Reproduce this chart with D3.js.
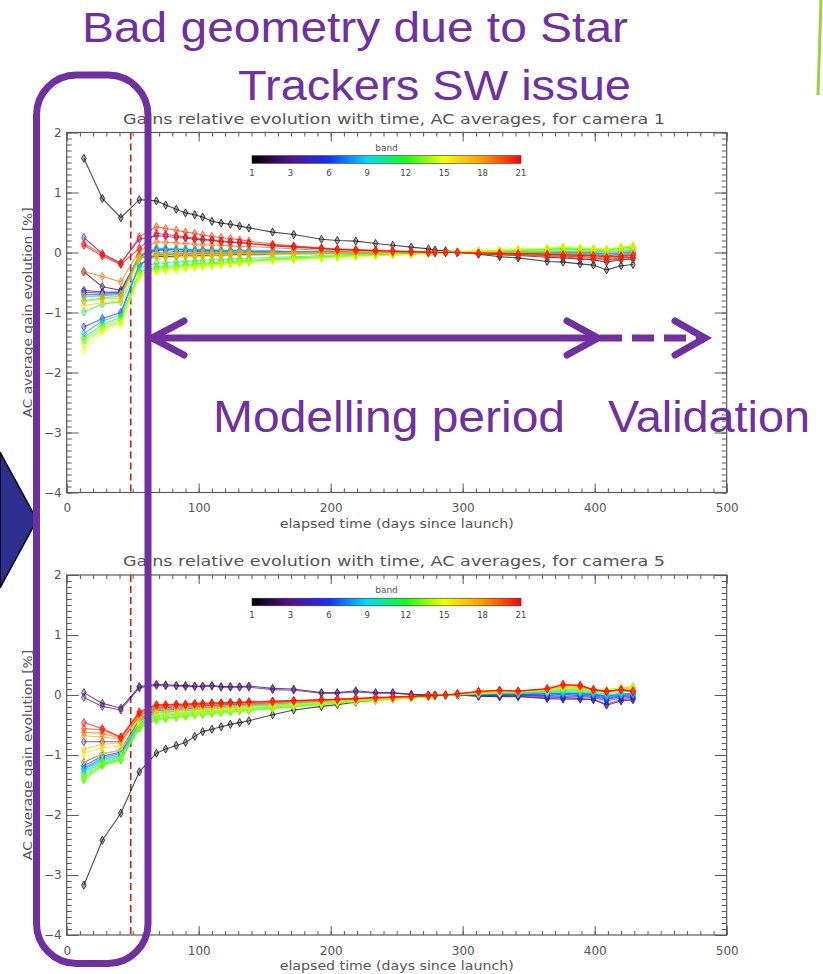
<!DOCTYPE html>
<html>
<head>
<meta charset="utf-8">
<script src="https://cdn.jsdelivr.net/npm/d3@7"></script>
<style>
  html, body { margin: 0; padding: 0; background: #ffffff; }
  svg { display: block; }
</style>
</head>
<body>
<svg id="chart" width="823" height="974"></svg>
<script>
// ---------------------------------------------------------------------------
// Data
// ---------------------------------------------------------------------------

// Acquisition epochs (days since launch)
const days = [13, 27, 41, 55, 68, 75, 83, 90, 97, 103, 110, 117, 124, 131, 138,
  156, 172, 193, 205, 219, 234, 247, 261, 274, 279, 287, 296, 312, 328, 342,
  364, 376, 389, 399, 409, 420, 429];

// Colour bar: labelled bands and their colours
const bandTicks = [1, 3, 6, 9, 12, 15, 18, 21];
const bandColors = ["#000000", "#54138c", "#1530ff", "#00dcf5", "#14ff14", "#f2ff00", "#ff9a00", "#ff0000"];

const xTicks = [0, 100, 200, 300, 400, 500];
const yTicks = [-4, -3, -2, -1, 0, 1, 2];

// Start of the period with correct star-tracker geometry (days since launch)
const anomalyDay = 48.5;

// AC average gain evolution [%], camera 1, bands 1..21
const camera1Gains = [
  [1.57, 0.90, 0.58, 0.88, 0.86, 0.79, 0.72, 0.66, 0.63, 0.59, 0.52, 0.49, 0.47, 0.44, 0.41, 0.34, 0.30, 0.22, 0.20, 0.19, 0.15, 0.12, 0.09, 0.06, 0.04, 0.03, 0.01, -0.03, -0.07, -0.09, -0.15, -0.16, -0.19, -0.21, -0.29, -0.22, -0.20],
  [-0.32, -0.57, -0.63, -0.08, -0.06, -0.07, -0.06, -0.05, -0.06, -0.05, -0.04, -0.05, -0.04, -0.03, -0.04, -0.03, -0.02, -0.02, -0.01, -0.02, -0.01, 0.00, 0.00, 0.00, 0.01, 0.00, 0.00, -0.02, -0.04, -0.05, -0.08, -0.09, -0.11, -0.12, -0.16, -0.12, -0.11],
  [0.25, -0.02, -0.17, 0.22, 0.28, 0.27, 0.25, 0.24, 0.22, 0.21, 0.20, 0.18, 0.17, 0.16, 0.15, 0.11, 0.09, 0.06, 0.05, 0.04, 0.03, 0.02, 0.01, 0.01, 0.00, 0.00, 0.00, -0.01, -0.02, -0.03, -0.05, -0.06, -0.07, -0.08, -0.12, -0.09, -0.08],
  [-0.63, -0.66, -0.66, -0.05, 0.06, 0.06, 0.05, 0.05, 0.04, 0.04, 0.04, 0.03, 0.03, 0.03, 0.02, 0.02, 0.01, 0.01, 0.01, 0.00, 0.00, 0.00, 0.00, 0.00, 0.00, 0.00, 0.00, 0.00, -0.01, -0.02, -0.03, -0.03, -0.04, -0.05, -0.08, -0.05, -0.04],
  [-0.66, -0.68, -0.67, -0.06, 0.03, 0.03, 0.02, 0.02, 0.02, 0.01, 0.01, 0.01, 0.01, 0.00, 0.00, 0.00, 0.00, 0.00, 0.00, 0.00, 0.00, 0.00, 0.00, 0.00, 0.00, 0.00, 0.00, 0.00, -0.01, -0.01, -0.02, -0.02, -0.03, -0.03, -0.06, -0.03, -0.02],
  [-1.24, -1.10, -1.00, -0.20, -0.04, -0.04, -0.03, -0.03, -0.03, -0.02, -0.02, -0.02, -0.02, -0.01, -0.01, -0.01, -0.01, 0.00, 0.00, 0.00, 0.00, 0.00, 0.00, 0.00, 0.00, 0.00, 0.00, 0.00, 0.00, -0.01, -0.01, -0.01, -0.02, -0.02, -0.04, -0.02, -0.01],
  [-0.70, -0.70, -0.68, -0.07, 0.05, 0.05, 0.05, 0.04, 0.04, 0.04, 0.03, 0.03, 0.03, 0.03, 0.02, 0.02, 0.01, 0.01, 0.01, 0.00, 0.00, 0.00, 0.00, 0.00, 0.00, 0.00, 0.00, 0.00, 0.00, 0.00, -0.01, 0.00, -0.01, -0.01, -0.03, -0.01, 0.00],
  [-1.35, -1.14, -1.04, -0.22, -0.02, -0.02, -0.02, -0.01, -0.01, -0.01, -0.01, 0.00, 0.00, 0.00, 0.00, 0.00, 0.00, 0.00, 0.00, 0.00, 0.00, 0.00, 0.00, 0.00, 0.00, 0.00, 0.00, 0.00, 0.00, 0.00, 0.00, 0.01, 0.00, 0.00, -0.02, 0.00, 0.01],
  [-0.74, -0.72, -0.70, -0.04, 0.07, 0.07, 0.06, 0.06, 0.05, 0.05, 0.05, 0.04, 0.04, 0.04, 0.04, 0.03, 0.02, 0.02, 0.01, 0.01, 0.01, 0.00, 0.00, 0.00, 0.00, 0.00, 0.00, 0.00, 0.01, 0.01, 0.01, 0.02, 0.01, 0.01, 0.00, 0.01, 0.02],
  [-0.80, -0.76, -0.72, -0.10, -0.03, -0.03, -0.03, -0.02, -0.02, -0.02, -0.02, -0.01, -0.01, -0.01, -0.01, -0.01, 0.00, 0.00, 0.00, 0.00, 0.00, 0.00, 0.00, 0.00, 0.00, 0.00, 0.00, 0.01, 0.01, 0.02, 0.02, 0.03, 0.02, 0.02, 0.01, 0.03, 0.04],
  [-0.99, -0.86, -0.82, -0.25, -0.18, -0.17, -0.16, -0.15, -0.14, -0.13, -0.12, -0.12, -0.11, -0.10, -0.10, -0.08, -0.07, -0.05, -0.04, -0.03, -0.03, -0.02, -0.01, -0.01, 0.00, 0.00, 0.00, 0.01, 0.02, 0.03, 0.04, 0.05, 0.04, 0.04, 0.03, 0.05, 0.07],
  [-1.42, -1.20, -1.08, -0.33, -0.24, -0.23, -0.22, -0.20, -0.19, -0.18, -0.17, -0.16, -0.15, -0.14, -0.13, -0.11, -0.09, -0.07, -0.06, -0.05, -0.04, -0.03, -0.02, -0.01, -0.01, 0.00, 0.00, 0.02, 0.03, 0.04, 0.05, 0.07, 0.05, 0.05, 0.04, 0.07, 0.09],
  [-1.46, -1.25, -1.12, -0.36, -0.27, -0.26, -0.24, -0.23, -0.21, -0.20, -0.19, -0.18, -0.17, -0.16, -0.15, -0.12, -0.10, -0.08, -0.07, -0.06, -0.05, -0.04, -0.03, -0.02, -0.01, 0.00, 0.00, 0.02, 0.03, 0.05, 0.06, 0.08, 0.06, 0.06, 0.05, 0.08, 0.10],
  [-1.52, -1.28, -1.16, -0.38, -0.30, -0.28, -0.27, -0.25, -0.23, -0.22, -0.21, -0.20, -0.19, -0.17, -0.16, -0.13, -0.11, -0.09, -0.08, -0.06, -0.05, -0.04, -0.03, -0.02, -0.01, 0.00, 0.01, 0.03, 0.04, 0.05, 0.07, 0.09, 0.07, 0.06, 0.05, 0.09, 0.11],
  [-1.63, -1.32, -1.20, -0.42, -0.33, -0.31, -0.29, -0.27, -0.25, -0.24, -0.23, -0.21, -0.20, -0.19, -0.17, -0.14, -0.12, -0.10, -0.08, -0.07, -0.06, -0.04, -0.03, -0.02, -0.01, 0.00, 0.01, 0.03, 0.04, 0.06, 0.07, 0.10, 0.08, 0.07, 0.05, 0.10, 0.12],
  [-0.88, -0.84, -0.80, -0.12, -0.09, -0.09, -0.08, -0.08, -0.07, -0.07, -0.06, -0.06, -0.05, -0.05, -0.05, -0.04, -0.03, -0.02, -0.02, -0.01, -0.01, 0.00, 0.00, 0.00, 0.00, 0.00, 0.00, 0.01, 0.02, 0.03, 0.03, 0.04, 0.03, 0.03, 0.02, 0.04, 0.05],
  [-0.82, -0.78, -0.76, -0.08, -0.05, -0.05, -0.04, -0.04, -0.04, -0.03, -0.03, -0.03, -0.03, -0.02, -0.02, -0.02, -0.01, -0.01, -0.01, 0.00, 0.00, 0.00, 0.00, 0.00, 0.00, 0.00, 0.00, 0.00, 0.00, 0.00, -0.01, -0.01, -0.02, -0.02, -0.04, -0.02, -0.01],
  [-0.72, -0.72, -0.70, -0.04, 0.00, 0.00, 0.00, -0.01, 0.00, 0.00, 0.00, 0.00, 0.00, 0.00, 0.00, 0.00, 0.00, 0.00, 0.00, 0.00, 0.00, 0.00, 0.00, 0.00, 0.00, 0.00, 0.00, -0.01, -0.01, -0.02, -0.03, -0.03, -0.04, -0.05, -0.07, -0.05, -0.04],
  [-0.32, -0.40, -0.49, 0.03, 0.18, 0.17, 0.16, 0.15, 0.14, 0.13, 0.12, 0.12, 0.11, 0.10, 0.10, 0.08, 0.06, 0.04, 0.03, 0.02, 0.02, 0.01, 0.01, 0.00, 0.00, 0.00, 0.00, -0.01, -0.02, -0.03, -0.04, -0.05, -0.06, -0.07, -0.10, -0.07, -0.06],
  [0.15, -0.03, -0.19, 0.26, 0.43, 0.40, 0.37, 0.34, 0.32, 0.29, 0.27, 0.25, 0.23, 0.21, 0.19, 0.14, 0.11, 0.08, 0.06, 0.05, 0.04, 0.03, 0.02, 0.01, 0.00, 0.00, 0.00, -0.02, -0.03, -0.04, -0.06, -0.08, -0.09, -0.10, -0.13, -0.11, -0.10],
  [0.12, -0.06, -0.20, 0.07, 0.32, 0.30, 0.28, 0.26, 0.24, 0.22, 0.21, 0.19, 0.18, 0.17, 0.15, 0.12, 0.10, 0.07, 0.05, 0.04, 0.03, 0.02, 0.01, 0.00, 0.00, 0.00, 0.00, -0.01, -0.01, -0.02, -0.03, -0.04, -0.05, -0.05, -0.08, -0.06, -0.05]
];

// AC average gain evolution [%], camera 5, bands 1..21
const camera5Gains = [
  [-3.17, -2.42, -1.97, -1.28, -0.97, -0.90, -0.84, -0.79, -0.69, -0.61, -0.57, -0.53, -0.49, -0.46, -0.43, -0.33, -0.25, -0.19, -0.16, -0.12, -0.08, -0.06, -0.03, -0.01, 0.00, 0.00, 0.00, 0.00, 0.01, 0.01, 0.02, 0.03, 0.02, 0.01, -0.02, 0.02, 0.03],
  [0.04, -0.14, -0.22, 0.14, 0.18, 0.17, 0.16, 0.16, 0.15, 0.15, 0.16, 0.14, 0.14, 0.14, 0.15, 0.11, 0.10, 0.04, 0.04, 0.07, 0.04, 0.04, 0.01, 0.00, 0.00, 0.00, 0.00, -0.02, -0.03, -0.03, -0.06, -0.07, -0.07, -0.08, -0.17, -0.10, -0.08],
  [-0.04, -0.19, -0.25, 0.12, 0.16, 0.15, 0.15, 0.14, 0.14, 0.14, 0.15, 0.13, 0.13, 0.13, 0.13, 0.09, 0.08, 0.03, 0.03, 0.05, 0.03, 0.03, 0.01, 0.00, 0.00, 0.00, 0.00, -0.02, -0.02, -0.02, -0.05, -0.05, -0.06, -0.07, -0.15, -0.08, -0.06],
  [-0.78, -0.78, -0.78, -0.35, -0.20, -0.19, -0.18, -0.17, -0.16, -0.16, -0.15, -0.14, -0.14, -0.13, -0.13, -0.11, -0.10, -0.08, -0.07, -0.06, -0.05, -0.04, -0.02, -0.01, 0.00, 0.00, 0.00, -0.01, -0.02, -0.01, -0.03, -0.04, -0.03, -0.04, -0.10, -0.05, -0.04],
  [-1.12, -0.98, -0.92, -0.40, -0.22, -0.21, -0.20, -0.19, -0.18, -0.18, -0.17, -0.16, -0.16, -0.15, -0.15, -0.13, -0.11, -0.09, -0.08, -0.07, -0.05, -0.04, -0.03, -0.01, 0.00, 0.00, 0.00, 0.00, -0.01, 0.00, -0.01, -0.02, -0.01, -0.02, -0.07, -0.03, -0.02],
  [-1.18, -1.02, -0.95, -0.42, -0.24, -0.23, -0.22, -0.21, -0.20, -0.19, -0.18, -0.18, -0.17, -0.16, -0.16, -0.14, -0.12, -0.10, -0.09, -0.07, -0.06, -0.05, -0.03, -0.02, -0.01, 0.00, 0.00, 0.00, 0.00, 0.00, 0.00, 0.01, 0.00, 0.00, -0.06, -0.01, 0.00],
  [-1.22, -1.05, -0.97, -0.45, -0.26, -0.25, -0.24, -0.23, -0.22, -0.21, -0.20, -0.19, -0.18, -0.18, -0.17, -0.15, -0.13, -0.11, -0.09, -0.08, -0.06, -0.05, -0.03, -0.02, -0.01, 0.00, 0.00, 0.01, 0.01, 0.01, 0.02, 0.02, 0.02, 0.01, -0.04, 0.00, 0.01],
  [-1.24, -1.08, -1.00, -0.47, -0.28, -0.27, -0.26, -0.25, -0.24, -0.23, -0.22, -0.21, -0.20, -0.19, -0.18, -0.16, -0.14, -0.12, -0.10, -0.08, -0.07, -0.05, -0.04, -0.02, -0.01, 0.00, 0.00, 0.01, 0.02, 0.02, 0.03, 0.03, 0.03, 0.02, -0.02, 0.01, 0.02],
  [-1.27, -1.10, -1.02, -0.48, -0.30, -0.29, -0.27, -0.26, -0.25, -0.24, -0.23, -0.22, -0.21, -0.20, -0.19, -0.17, -0.15, -0.12, -0.11, -0.09, -0.07, -0.06, -0.04, -0.02, -0.01, 0.00, 0.00, 0.01, 0.02, 0.02, 0.04, 0.04, 0.04, 0.03, 0.00, 0.02, 0.03],
  [-1.30, -1.12, -1.04, -0.50, -0.33, -0.31, -0.30, -0.28, -0.27, -0.26, -0.25, -0.24, -0.23, -0.22, -0.21, -0.18, -0.16, -0.13, -0.11, -0.09, -0.08, -0.06, -0.04, -0.02, -0.01, 0.00, 0.01, 0.02, 0.03, 0.03, 0.05, 0.06, 0.05, 0.04, 0.02, 0.05, 0.07],
  [-1.34, -1.14, -1.06, -0.52, -0.36, -0.34, -0.32, -0.31, -0.29, -0.28, -0.27, -0.26, -0.25, -0.24, -0.23, -0.20, -0.17, -0.14, -0.12, -0.10, -0.08, -0.06, -0.05, -0.03, -0.01, 0.00, 0.01, 0.02, 0.03, 0.04, 0.06, 0.08, 0.07, 0.06, 0.05, 0.09, 0.11],
  [-1.39, -1.16, -1.08, -0.55, -0.40, -0.38, -0.36, -0.34, -0.32, -0.31, -0.30, -0.28, -0.27, -0.26, -0.25, -0.22, -0.19, -0.15, -0.13, -0.11, -0.09, -0.07, -0.05, -0.03, -0.01, 0.00, 0.01, 0.03, 0.04, 0.05, 0.07, 0.10, 0.09, 0.08, 0.07, 0.11, 0.13],
  [-1.42, -1.18, -1.09, -0.56, -0.42, -0.40, -0.38, -0.36, -0.34, -0.33, -0.31, -0.30, -0.29, -0.27, -0.26, -0.23, -0.20, -0.16, -0.14, -0.11, -0.09, -0.07, -0.05, -0.03, -0.02, 0.00, 0.01, 0.03, 0.04, 0.05, 0.08, 0.11, 0.10, 0.09, 0.08, 0.12, 0.14],
  [-1.36, -1.12, -1.05, -0.52, -0.38, -0.36, -0.35, -0.33, -0.31, -0.30, -0.29, -0.27, -0.26, -0.25, -0.24, -0.21, -0.18, -0.15, -0.13, -0.10, -0.08, -0.07, -0.05, -0.03, -0.01, 0.00, 0.01, 0.03, 0.04, 0.05, 0.08, 0.11, 0.10, 0.09, 0.08, 0.11, 0.13],
  [-1.10, -0.98, -0.92, -0.45, -0.32, -0.31, -0.30, -0.28, -0.27, -0.26, -0.25, -0.24, -0.23, -0.22, -0.21, -0.18, -0.16, -0.13, -0.11, -0.09, -0.07, -0.06, -0.04, -0.02, -0.01, 0.00, 0.01, 0.03, 0.04, 0.05, 0.08, 0.12, 0.10, 0.09, 0.07, 0.11, 0.12],
  [-0.97, -0.88, -0.85, -0.40, -0.28, -0.27, -0.26, -0.25, -0.24, -0.23, -0.22, -0.21, -0.20, -0.19, -0.18, -0.16, -0.14, -0.12, -0.10, -0.08, -0.07, -0.05, -0.04, -0.02, -0.01, 0.00, 0.01, 0.03, 0.05, 0.05, 0.08, 0.12, 0.11, 0.08, 0.06, 0.10, 0.11],
  [-0.90, -0.82, -0.80, -0.38, -0.24, -0.23, -0.22, -0.21, -0.20, -0.20, -0.19, -0.18, -0.17, -0.17, -0.16, -0.14, -0.12, -0.10, -0.09, -0.07, -0.06, -0.05, -0.03, -0.02, -0.01, 0.00, 0.01, 0.04, 0.05, 0.05, 0.09, 0.14, 0.12, 0.08, 0.06, 0.09, 0.09],
  [-0.68, -0.70, -0.74, -0.34, -0.20, -0.19, -0.19, -0.18, -0.17, -0.17, -0.16, -0.15, -0.15, -0.14, -0.14, -0.12, -0.11, -0.09, -0.08, -0.07, -0.05, -0.04, -0.03, -0.02, -0.01, 0.00, 0.02, 0.05, 0.07, 0.06, 0.10, 0.16, 0.14, 0.08, 0.06, 0.08, 0.07],
  [-0.62, -0.64, -0.72, -0.32, -0.18, -0.18, -0.17, -0.17, -0.16, -0.16, -0.15, -0.15, -0.14, -0.13, -0.13, -0.12, -0.10, -0.09, -0.08, -0.06, -0.05, -0.04, -0.03, -0.02, -0.01, 0.00, 0.02, 0.05, 0.07, 0.06, 0.10, 0.17, 0.15, 0.08, 0.05, 0.08, 0.06],
  [-0.56, -0.58, -0.71, -0.30, -0.17, -0.17, -0.16, -0.16, -0.15, -0.15, -0.14, -0.14, -0.13, -0.13, -0.12, -0.11, -0.10, -0.08, -0.07, -0.06, -0.05, -0.04, -0.03, -0.01, -0.01, 0.00, 0.02, 0.06, 0.08, 0.06, 0.11, 0.18, 0.16, 0.09, 0.06, 0.09, 0.06],
  [-0.46, -0.56, -0.70, -0.28, -0.16, -0.16, -0.15, -0.15, -0.14, -0.14, -0.13, -0.13, -0.12, -0.12, -0.11, -0.10, -0.09, -0.08, -0.07, -0.06, -0.04, -0.03, -0.02, -0.01, 0.00, 0.00, 0.02, 0.06, 0.08, 0.07, 0.10, 0.17, 0.16, 0.09, 0.06, 0.09, 0.06]
];

const cameras = [
  { name: "camera 1", gains: camera1Gains },
  { name: "camera 5", gains: camera5Gains }
];

// ---------------------------------------------------------------------------
// Layout
// ---------------------------------------------------------------------------
const plotLeft = 66.7, plotRight = 726.7, plotHeight = 360;
const panelTops = [132.5, 575];
const purple = "#7030a0";
const axisColor = "#5a5a5a";
const textColor = "#555555";
const plotFont = "'DejaVu Sans', sans-serif";
const slideFont = "'Liberation Sans', Arial, sans-serif";

const svg = d3.select("#chart");

const x = d3.scaleLinear().domain([xTicks[0], xTicks[xTicks.length - 1]]).range([plotLeft, plotRight]);
const bandColor = d3.scaleLinear().domain(bandTicks).range(bandColors).interpolate(d3.interpolateRgb);

// Gradient used by the colour bar, sampled from the band colour scale
const cbPos = d3.scalePoint().domain(bandTicks).range([0, 1]);
const grad = svg.append("defs").append("linearGradient").attr("id", "bandGradient")
  .attr("x1", "0%").attr("x2", "100%").attr("y1", "0%").attr("y2", "0%");
bandTicks.forEach(b => {
  grad.append("stop").attr("offset", (cbPos(b) * 100) + "%").attr("stop-color", bandColor(b));
});

const diamond = d3.symbol().type(d3.symbolDiamond).size(19);

function styleAxis(g) {
  g.select(".domain").remove();
  g.selectAll("line").attr("stroke", axisColor).attr("stroke-width", 1);
  g.selectAll("text").attr("fill", textColor).attr("font-size", 12).attr("font-family", plotFont);
}

cameras.forEach((cam, ci) => {
  const top = panelTops[ci];
  const y = d3.scaleLinear().domain([yTicks[0], yTicks[yTicks.length - 1]]).range([top + plotHeight, top]);
  const g = svg.append("g");

  // Minor and major ticks on all four sides, pointing inward
  const minorX = d3.range(xTicks[0], xTicks[xTicks.length - 1] + 1, 10);
  const minorY = d3.range(-40, 21).map(v => v / 10);
  g.append("g").attr("transform", `translate(0,${y(-4)})`)
    .call(d3.axisBottom(x).tickValues(minorX).tickSize(-4).tickFormat("")).call(styleAxis);
  g.append("g").attr("transform", `translate(0,${y(-4)})`)
    .call(d3.axisBottom(x).tickValues(xTicks).tickSize(-9).tickPadding(11).tickFormat(d3.format("d"))).call(styleAxis);
  g.append("g").attr("transform", `translate(0,${y(2)})`)
    .call(d3.axisTop(x).tickValues(minorX).tickSize(-4).tickFormat("")).call(styleAxis);
  g.append("g").attr("transform", `translate(0,${y(2)})`)
    .call(d3.axisTop(x).tickValues(xTicks).tickSize(-9).tickFormat("")).call(styleAxis);
  g.append("g").attr("transform", `translate(${x(0)},0)`)
    .call(d3.axisLeft(y).tickValues(minorY).tickSize(-5).tickFormat("")).call(styleAxis);
  g.append("g").attr("transform", `translate(${x(0)},0)`)
    .call(d3.axisLeft(y).tickValues(yTicks).tickSize(-12).tickPadding(5).tickFormat(d3.format("d"))).call(styleAxis);
  g.append("g").attr("transform", `translate(${x(500)},0)`)
    .call(d3.axisRight(y).tickValues(minorY).tickSize(-5).tickFormat("")).call(styleAxis);
  g.append("g").attr("transform", `translate(${x(500)},0)`)
    .call(d3.axisRight(y).tickValues(yTicks).tickSize(-12).tickFormat("")).call(styleAxis);

  // Frame
  g.append("rect")
    .attr("x", x(0)).attr("y", y(2))
    .attr("width", x(500) - x(0)).attr("height", y(-4) - y(2))
    .attr("fill", "none").attr("stroke", axisColor).attr("stroke-width", 1.2);

  // Title and axis labels
  g.append("text")
    .attr("x", 123).attr("y", top - 9)
    .attr("textLength", 542).attr("lengthAdjust", "spacingAndGlyphs")
    .attr("font-family", plotFont).attr("font-size", 14).attr("fill", textColor)
    .text(`Gains relative evolution with time, AC averages, for ${cam.name}`);
  g.append("text")
    .attr("x", (plotLeft + plotRight) / 2).attr("y", y(-4) + 35)
    .attr("text-anchor", "middle")
    .attr("textLength", 234).attr("lengthAdjust", "spacingAndGlyphs")
    .attr("font-family", plotFont).attr("font-size", 12.5).attr("fill", textColor)
    .text("elapsed time (days since launch)");
  g.append("text")
    .attr("transform", `translate(32,${(y(2) + y(-4)) / 2}) rotate(-90)`)
    .attr("text-anchor", "middle")
    .attr("textLength", 210).attr("lengthAdjust", "spacingAndGlyphs")
    .attr("font-family", plotFont).attr("font-size", 12).attr("fill", textColor)
    .text("AC average gain evolution [%]");

  // Colour bar
  const cbX = d3.scaleLinear().domain([0, 1]).range([252, 521]);
  g.append("rect")
    .attr("x", cbX(0)).attr("y", top + 23.2)
    .attr("width", cbX(1) - cbX(0)).attr("height", 7.6)
    .attr("fill", "url(#bandGradient)").attr("stroke", "#333").attr("stroke-width", 0.6);
  g.append("text")
    .attr("x", cbX(0.5)).attr("y", top + 18)
    .attr("text-anchor", "middle")
    .attr("font-family", plotFont).attr("font-size", 9).attr("fill", textColor)
    .text("band");
  g.selectAll(".cbLabel").data(bandTicks).join("text")
    .attr("x", d => cbX(cbPos(d))).attr("y", top + 43)
    .attr("text-anchor", "middle")
    .attr("font-family", plotFont).attr("font-size", 8.5).attr("fill", "#444")
    .text(d => d);

  // Anomaly limit
  g.append("line")
    .attr("x1", x(anomalyDay)).attr("x2", x(anomalyDay))
    .attr("y1", y(2)).attr("y2", y(-4))
    .attr("stroke", "#b52a2a").attr("stroke-width", 1.7)
    .attr("stroke-dasharray", "7,4");

  // Band series
  const line = d3.line().x((d, i) => x(days[i])).y(d => y(d));
  cam.gains.forEach((series, bi) => {
    const c = bandColor(bi + 1);
    const sg = g.append("g");
    sg.append("path").datum(series)
      .attr("d", line)
      .attr("fill", "none").attr("stroke", c)
      .attr("stroke-width", 1.1).attr("stroke-opacity", 0.7);
    sg.selectAll("path.mk").data(series).join("path")
      .attr("class", "mk")
      .attr("d", diamond)
      .attr("transform", (d, i) => `translate(${x(days[i])},${y(d)})`)
      .attr("fill", c).attr("fill-opacity", 0.3)
      .attr("stroke", c).attr("stroke-opacity", 0.8).attr("stroke-width", 0.9);
  });
});

// ---------------------------------------------------------------------------
// Slide annotations
// ---------------------------------------------------------------------------
const ann = svg.append("g");

// Navy chevron at the left edge
ann.append("polygon")
  .attr("points", "0,452 37,520 0,588")
  .attr("fill", "#2c2f8e").attr("stroke", "#000").attr("stroke-width", 1.5);

// Green accent line top right
ann.append("path")
  .attr("d", "M821,0 L818,95")
  .attr("stroke", "#9bd13b").attr("stroke-width", 3).attr("fill", "none");

// Box around the early epochs
ann.append("rect")
  .attr("x", 36.5).attr("y", 75).attr("width", 111.5).attr("height", 888.5)
  .attr("rx", 40).attr("ry", 40)
  .attr("fill", "none").attr("stroke", purple).attr("stroke-width", 7);

// Modelling / validation arrows
const arrowY = 338;
ann.append("line").attr("x1", 153).attr("x2", 596).attr("y1", arrowY).attr("y2", arrowY)
  .attr("stroke", purple).attr("stroke-width", 7);
ann.append("line").attr("x1", 600).attr("x2", 702).attr("y1", arrowY).attr("y2", arrowY)
  .attr("stroke", purple).attr("stroke-width", 7).attr("stroke-dasharray", "22,10");
[[184, 152], [567, 598], [675, 705]].forEach(([back, tip]) => {
  ann.append("polyline")
    .attr("points", `${back},${arrowY - 17} ${tip},${arrowY} ${back},${arrowY + 17}`)
    .attr("fill", "none").attr("stroke", purple).attr("stroke-width", 7)
    .attr("stroke-linecap", "round").attr("stroke-linejoin", "miter");
});

// Annotation texts
const labels = [
  { text: "Bad geometry due to Star", x: 82, y: 42, w: 546, size: 43 },
  { text: "Trackers SW issue", x: 238, y: 100, w: 393, size: 43 },
  { text: "Modelling period", x: 213, y: 432, w: 352, size: 45 },
  { text: "Validation", x: 608, y: 432, w: 202, size: 45 }
];
ann.selectAll(".note").data(labels).join("text")
  .attr("x", d => d.x).attr("y", d => d.y)
  .attr("textLength", d => d.w).attr("lengthAdjust", "spacingAndGlyphs")
  .attr("font-family", slideFont).attr("font-size", d => d.size)
  .attr("fill", purple)
  .text(d => d.text);
</script>
</body>
</html>
